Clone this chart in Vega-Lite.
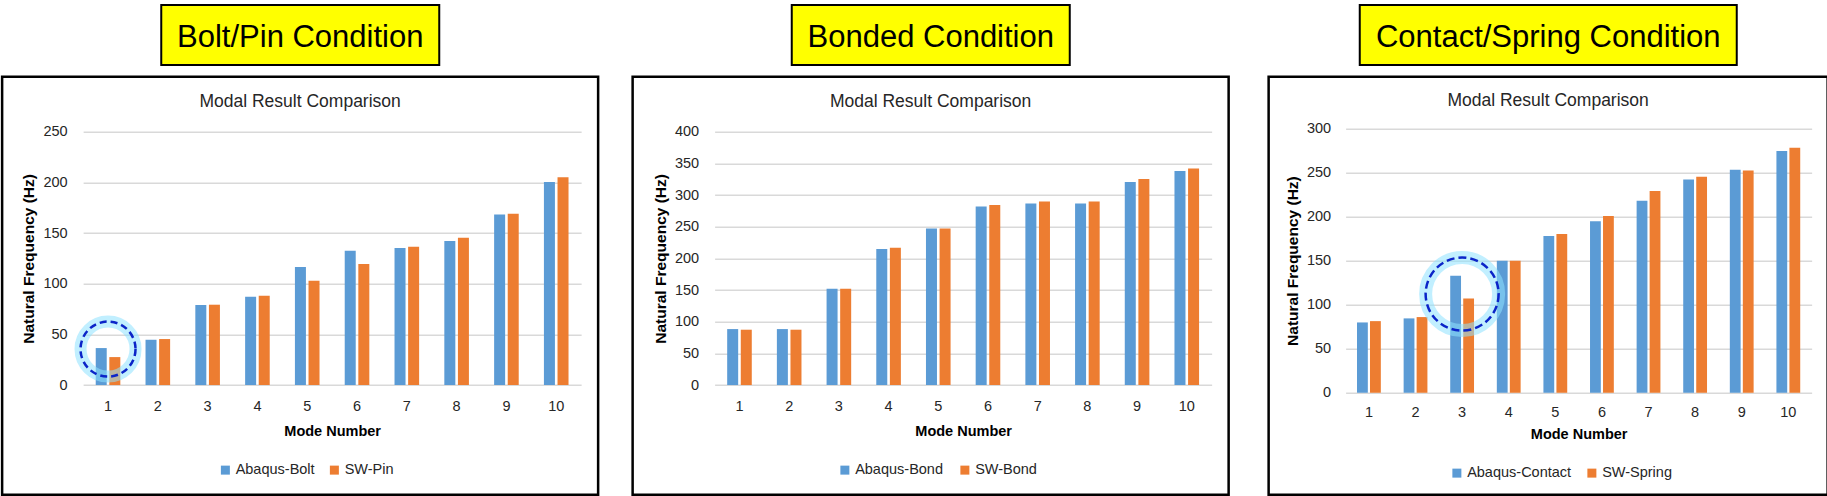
{
  "$schema": "https://vega.github.io/schema/vega-lite/v6.json",
  "background": "white",
  "padding": {"left": 0.75, "top": 4, "right": 0, "bottom": 0},
  "config": {
    "font": "Liberation Sans, Arial, sans-serif",
    "axis": {"labelFont": "Liberation Sans, Arial, sans-serif", "titleFont": "Liberation Sans, Arial, sans-serif", "labelColor": "#262626", "titleColor": "#000000"},
    "legend": {"labelFont": "Liberation Sans, Arial, sans-serif"}
  },
  "resolve": {"scale": {"color": "independent"}, "legend": {"color": "independent"}},
  "datasets": {
    "bolt": [
      {"mode": 1, "series": "Abaqus-Bolt", "value": 36.5}, {"mode": 1, "series": "SW-Pin", "value": 27.6},
      {"mode": 2, "series": "Abaqus-Bolt", "value": 44.7}, {"mode": 2, "series": "SW-Pin", "value": 45.4},
      {"mode": 3, "series": "Abaqus-Bolt", "value": 79.0}, {"mode": 3, "series": "SW-Pin", "value": 79.3},
      {"mode": 4, "series": "Abaqus-Bolt", "value": 87.2}, {"mode": 4, "series": "SW-Pin", "value": 88.2},
      {"mode": 5, "series": "Abaqus-Bolt", "value": 116.4}, {"mode": 5, "series": "SW-Pin", "value": 103.0},
      {"mode": 6, "series": "Abaqus-Bolt", "value": 132.6}, {"mode": 6, "series": "SW-Pin", "value": 119.4},
      {"mode": 7, "series": "Abaqus-Bolt", "value": 135.2}, {"mode": 7, "series": "SW-Pin", "value": 136.5},
      {"mode": 8, "series": "Abaqus-Bolt", "value": 142.1}, {"mode": 8, "series": "SW-Pin", "value": 145.4},
      {"mode": 9, "series": "Abaqus-Bolt", "value": 168.4}, {"mode": 9, "series": "SW-Pin", "value": 169.1},
      {"mode": 10, "series": "Abaqus-Bolt", "value": 200.3}, {"mode": 10, "series": "SW-Pin", "value": 205.0}
    ],
    "bond": [
      {"mode": 1, "series": "Abaqus-Bond", "value": 88.4}, {"mode": 1, "series": "SW-Bond", "value": 87.4},
      {"mode": 2, "series": "Abaqus-Bond", "value": 88.4}, {"mode": 2, "series": "SW-Bond", "value": 87.4},
      {"mode": 3, "series": "Abaqus-Bond", "value": 152.1}, {"mode": 3, "series": "SW-Bond", "value": 152.1},
      {"mode": 4, "series": "Abaqus-Bond", "value": 214.7}, {"mode": 4, "series": "SW-Bond", "value": 216.8},
      {"mode": 5, "series": "Abaqus-Bond", "value": 247.4}, {"mode": 5, "series": "SW-Bond", "value": 247.4},
      {"mode": 6, "series": "Abaqus-Bond", "value": 282.1}, {"mode": 6, "series": "SW-Bond", "value": 284.2},
      {"mode": 7, "series": "Abaqus-Bond", "value": 286.8}, {"mode": 7, "series": "SW-Bond", "value": 290.0},
      {"mode": 8, "series": "Abaqus-Bond", "value": 286.8}, {"mode": 8, "series": "SW-Bond", "value": 290.0},
      {"mode": 9, "series": "Abaqus-Bond", "value": 320.5}, {"mode": 9, "series": "SW-Bond", "value": 325.3},
      {"mode": 10, "series": "Abaqus-Bond", "value": 337.9}, {"mode": 10, "series": "SW-Bond", "value": 342.1}
    ],
    "contact": [
      {"mode": 1, "series": "Abaqus-Contact", "value": 79.8}, {"mode": 1, "series": "SW-Spring", "value": 81.3},
      {"mode": 2, "series": "Abaqus-Contact", "value": 84.4}, {"mode": 2, "series": "SW-Spring", "value": 85.9},
      {"mode": 3, "series": "Abaqus-Contact", "value": 132.8}, {"mode": 3, "series": "SW-Spring", "value": 107.1},
      {"mode": 4, "series": "Abaqus-Contact", "value": 149.8}, {"mode": 4, "series": "SW-Spring", "value": 149.8},
      {"mode": 5, "series": "Abaqus-Contact", "value": 177.8}, {"mode": 5, "series": "SW-Spring", "value": 180.1},
      {"mode": 6, "series": "Abaqus-Contact", "value": 194.8}, {"mode": 6, "series": "SW-Spring", "value": 200.5},
      {"mode": 7, "series": "Abaqus-Contact", "value": 217.9}, {"mode": 7, "series": "SW-Spring", "value": 228.9},
      {"mode": 8, "series": "Abaqus-Contact", "value": 242.1}, {"mode": 8, "series": "SW-Spring", "value": 245.1},
      {"mode": 9, "series": "Abaqus-Contact", "value": 253.1}, {"mode": 9, "series": "SW-Spring", "value": 252.3},
      {"mode": 10, "series": "Abaqus-Contact", "value": 274.3}, {"mode": 10, "series": "SW-Spring", "value": 278.1}
    ],
    "boltMark": [{"mode": 1, "value": 35.5}],
    "contactMark": [{"mode": 3, "value": 112}]
  },
  "spacing": 31.5,
  "hconcat": [
    {
      "center": true,
      "spacing": 8.75,
      "resolve": {"scale": {"color": "independent"}, "legend": {"color": "independent"}},
      "vconcat": [
        {
          "width": 278, "height": 60,
          "view": {"fill": "#ffff00", "stroke": "#000000", "strokeWidth": 2},
          "data": {"values": [{"t": "Bolt/Pin Condition"}]},
          "mark": {"type": "text", "fontSize": 31, "baseline": "alphabetic", "dy": 12, "color": "#000000"},
          "encoding": {"text": {"field": "t"}}
        },
        {
          "width": 596, "height": 418,
          "view": {"fill": "white", "stroke": "#000000", "strokeWidth": 2.5},
          "title": {"text": "Modal Result Comparison", "offset": -34, "fontSize": 17.5, "fontWeight": "normal", "color": "#262626", "anchor": "middle", "frame": "group"},
          "encoding": {
            "x": {"field": "mode", "type": "ordinal",
              "scale": {"type": "band", "domain": [1,2,3,4,5,6,7,8,9,10], "range": [81, 579], "paddingInner": 0.5, "paddingOuter": 0.25},
              "axis": {"offset": -109.7, "domain": false, "ticks": false, "grid": false, "labelPadding": 14, "labelAngle": 0, "labelFontSize": 14.5, "title": "Mode Number", "titleFontSize": 14.5, "titleFontWeight": "bold", "titlePadding": 12}},
            "y": {"field": "value", "type": "quantitative",
              "scale": {"domain": [0, 250], "range": [308.3, 55], "nice": false, "zero": true},
              "axis": {"values": [0,50,100,150,200,250], "offset": -81, "domain": false, "ticks": false, "grid": true, "gridColor": "#d9d9d9", "gridWidth": 1.5, "labelPadding": 16, "labelFontSize": 14.5, "title": "Natural Frequency (Hz)", "titleFontSize": 15.5, "titleFontWeight": "bold", "titlePadding": 6}},
            "color": {"field": "series", "type": "nominal",
              "scale": {"domain": ["Abaqus-Bolt", "SW-Pin"], "range": ["#5b9bd5", "#ed7d31"]},
              "legend": {"title": null, "orient": "none", "legendX": 216, "legendY": 386, "direction": "horizontal", "symbolType": "square", "symbolSize": 81, "symbolStrokeWidth": 0, "labelFontSize": 14.5, "labelColor": "#262626", "labelOffset": 3, "columnPadding": 12, "padding": 0}}
          },
          "layer": [
            {
              "data": {"name": "bolt"},
              "transform": [{"filter": "datum.series === 'Abaqus-Bolt'"}],
              "mark": {"type": "bar", "width": 11, "xOffset": -6.8}
            },
            {
              "data": {"name": "bolt"},
              "transform": [{"filter": "datum.series === 'SW-Pin'"}],
              "mark": {"type": "bar", "width": 11, "xOffset": 6.8}
            },
            {
              "data": {"name": "boltMark"},
              "mark": {"type": "point", "shape": "circle", "size": 3025, "filled": false, "stroke": "#8fe3ff", "strokeWidth": 12, "opacity": 0.55},
              "encoding": {"color": {"value": "#8fe3ff"}}
            },
            {
              "data": {"name": "boltMark"},
              "mark": {"type": "point", "shape": "circle", "size": 3025, "filled": false, "stroke": "#0b24c8", "strokeWidth": 2.5, "strokeDash": [7, 4], "opacity": 1},
              "encoding": {"color": {"value": "#0b24c8"}}
            }
          ]
        }
      ]
    },
    {
      "spacing": 37,
      "resolve": {"scale": {"color": "independent"}, "legend": {"color": "independent"}},
      "hconcat": [
        {
          "center": true,
          "spacing": 8.75,
          "resolve": {"scale": {"color": "independent"}, "legend": {"color": "independent"}},
          "vconcat": [
            {
              "width": 278, "height": 60,
              "view": {"fill": "#ffff00", "stroke": "#000000", "strokeWidth": 2},
              "data": {"values": [{"t": "Bonded Condition"}]},
              "mark": {"type": "text", "fontSize": 31, "baseline": "alphabetic", "dy": 12, "color": "#000000"},
              "encoding": {"text": {"field": "t"}}
            },
            {
              "width": 596, "height": 418,
              "view": {"fill": "white", "stroke": "#000000", "strokeWidth": 2.5},
              "title": {"text": "Modal Result Comparison", "offset": -34, "fontSize": 17.5, "fontWeight": "normal", "color": "#262626", "anchor": "middle", "frame": "group"},
              "data": {"name": "bond"},
              "encoding": {
                "x": {"field": "mode", "type": "ordinal",
                  "scale": {"type": "band", "domain": [1,2,3,4,5,6,7,8,9,10], "range": [82, 579], "paddingInner": 0.5, "paddingOuter": 0.25},
                  "axis": {"offset": -109.7, "domain": false, "ticks": false, "grid": false, "labelPadding": 14, "labelAngle": 0, "labelFontSize": 14.5, "title": "Mode Number", "titleFontSize": 14.5, "titleFontWeight": "bold", "titlePadding": 12}},
                "y": {"field": "value", "type": "quantitative",
                  "scale": {"domain": [0, 400], "range": [308.3, 55], "nice": false, "zero": true},
                  "axis": {"values": [0,50,100,150,200,250,300,350,400], "offset": -82, "domain": false, "ticks": false, "grid": true, "gridColor": "#d9d9d9", "gridWidth": 1.5, "labelPadding": 16, "labelFontSize": 14.5, "title": "Natural Frequency (Hz)", "titleFontSize": 15.5, "titleFontWeight": "bold", "titlePadding": 6}},
                "color": {"field": "series", "type": "nominal",
                  "scale": {"domain": ["Abaqus-Bond", "SW-Bond"], "range": ["#5b9bd5", "#ed7d31"]},
                  "legend": {"title": null, "orient": "none", "legendX": 205, "legendY": 386, "direction": "horizontal", "symbolType": "square", "symbolSize": 81, "symbolStrokeWidth": 0, "labelFontSize": 14.5, "labelColor": "#262626", "labelOffset": 3, "columnPadding": 14, "padding": 0}}
              },
              "layer": [
                {
                  "transform": [{"filter": "datum.series === 'Abaqus-Bond'"}],
                  "mark": {"type": "bar", "width": 11, "xOffset": -6.8}
                },
                {
                  "transform": [{"filter": "datum.series === 'SW-Bond'"}],
                  "mark": {"type": "bar", "width": 11, "xOffset": 6.8}
                }
              ]
            }
          ]
        },
        {
          "center": true,
          "spacing": 8.75,
          "resolve": {"scale": {"color": "independent"}, "legend": {"color": "independent"}},
          "vconcat": [
            {
              "width": 377, "height": 60,
              "view": {"fill": "#ffff00", "stroke": "#000000", "strokeWidth": 2},
              "data": {"values": [{"t": "Contact/Spring Condition"}]},
              "mark": {"type": "text", "fontSize": 31, "baseline": "alphabetic", "dy": 12, "color": "#000000"},
              "encoding": {"text": {"field": "t"}}
            },
            {
              "width": 559, "height": 418,
              "view": {"fill": "white", "stroke": "#000000", "strokeWidth": 2.5},
              "title": {"text": "Modal Result Comparison", "offset": -33, "fontSize": 17.5, "fontWeight": "normal", "color": "#262626", "anchor": "middle", "frame": "group"},
              "encoding": {
                "x": {"field": "mode", "type": "ordinal",
                  "scale": {"type": "band", "domain": [1,2,3,4,5,6,7,8,9,10], "range": [77, 543], "paddingInner": 0.5, "paddingOuter": 0.25},
                  "axis": {"offset": -102, "domain": false, "ticks": false, "grid": false, "labelPadding": 12.5, "labelAngle": 0, "labelFontSize": 14.5, "title": "Mode Number", "titleFontSize": 14.5, "titleFontWeight": "bold", "titlePadding": 9}},
                "y": {"field": "value", "type": "quantitative",
                  "scale": {"domain": [0, 300], "range": [316, 51.7], "nice": false, "zero": true},
                  "axis": {"values": [0,50,100,150,200,250,300], "offset": -77, "domain": false, "ticks": false, "grid": true, "gridColor": "#d9d9d9", "gridWidth": 1.5, "labelPadding": 15, "labelFontSize": 14.5, "title": "Natural Frequency (Hz)", "titleFontSize": 15.5, "titleFontWeight": "bold", "titlePadding": 6}},
                "color": {"field": "series", "type": "nominal",
                  "scale": {"domain": ["Abaqus-Contact", "SW-Spring"], "range": ["#5b9bd5", "#ed7d31"]},
                  "legend": {"title": null, "orient": "none", "legendX": 181, "legendY": 389, "direction": "horizontal", "symbolType": "square", "symbolSize": 81, "symbolStrokeWidth": 0, "labelFontSize": 14.5, "labelColor": "#262626", "labelOffset": 3, "columnPadding": 13, "padding": 0}}
              },
              "layer": [
                {
                  "data": {"name": "contact"},
                  "transform": [{"filter": "datum.series === 'Abaqus-Contact'"}],
                  "mark": {"type": "bar", "width": 10.8, "xOffset": -6.5}
                },
                {
                  "data": {"name": "contact"},
                  "transform": [{"filter": "datum.series === 'SW-Spring'"}],
                  "mark": {"type": "bar", "width": 10.8, "xOffset": 6.5}
                },
                {
                  "data": {"name": "contactMark"},
                  "mark": {"type": "point", "shape": "circle", "size": 5329, "filled": false, "stroke": "#8fe3ff", "strokeWidth": 13, "opacity": 0.55},
                  "encoding": {"color": {"value": "#8fe3ff"}}
                },
                {
                  "data": {"name": "contactMark"},
                  "mark": {"type": "point", "shape": "circle", "size": 5329, "filled": false, "stroke": "#0b24c8", "strokeWidth": 2.5, "strokeDash": [8, 4], "opacity": 1},
                  "encoding": {"color": {"value": "#0b24c8"}}
                }
              ]
            }
          ]
        }
      ]
    }
  ]
}
